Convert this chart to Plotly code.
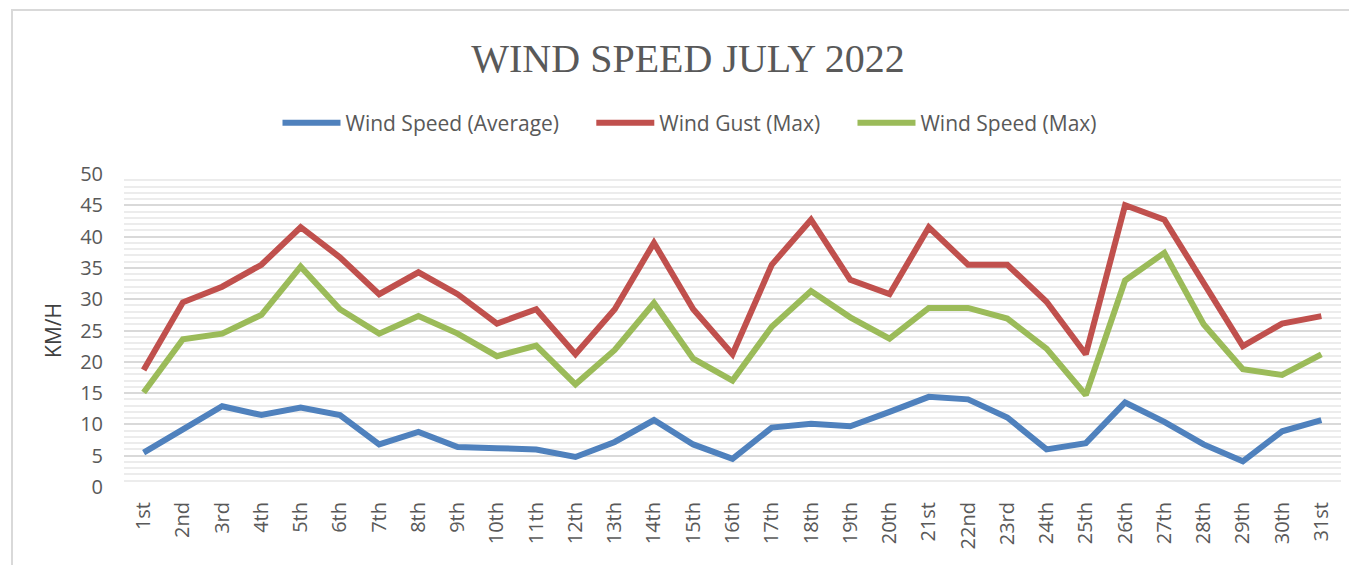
import plotly.graph_objects as go

days = ["1st", "2nd", "3rd", "4th", "5th", "6th", "7th", "8th", "9th", "10th",
        "11th", "12th", "13th", "14th", "15th", "16th", "17th", "18th", "19th", "20th",
        "21st", "22nd", "23rd", "24th", "25th", "26th", "27th", "28th", "29th", "30th", "31st"]

wind_avg = [5.5, 9.2, 12.9, 11.5, 12.7, 11.5, 6.8, 8.8, 6.4, 6.2,
            6.0, 4.8, 7.2, 10.7, 6.8, 4.5, 9.5, 10.1, 9.7, 12.0,
            14.4, 14.0, 11.1, 6.0, 7.0, 13.5, 10.4, 6.8, 4.1, 8.9, 10.7]

gust_max = [18.7, 29.5, 32.0, 35.5, 41.5, 36.7, 30.8, 34.3, 30.8, 26.1,
            28.4, 21.2, 28.4, 39.0, 28.4, 21.2, 35.5, 42.7, 33.1, 30.8,
            41.5, 35.5, 35.5, 29.6, 21.2, 45.0, 42.7, 32.5, 22.5, 26.1, 27.3]

wind_max = [15.1, 23.6, 24.5, 27.5, 35.2, 28.4, 24.5, 27.3, 24.5, 20.9,
            22.6, 16.4, 21.9, 29.4, 20.5, 17.0, 25.6, 31.3, 27.1, 23.7,
            28.6, 28.6, 26.9, 22.1, 14.7, 33.0, 37.4, 26.0, 18.8, 17.9, 21.2]

series_names = ["Wind Speed (Average)", "Wind Gust (Max)", "Wind Speed (Max)"]
series_values = [wind_avg, gust_max, wind_max]
series_colors = ["#4f81bd", "#c0504d", "#9bbb59"]

fig = go.Figure()
PAD = "\u00a0" * 5  # extra spacing between legend entries
for i, (name, vals, color) in enumerate(zip(series_names, series_values, series_colors)):
    label = name + (PAD if i < len(series_names) - 1 else "")
    fig.add_trace(go.Scatter(
        x=days, y=vals, name=label, mode="lines",
        line=dict(color=color, width=6, shape="linear"),
    ))

# page body has an 8px margin, so the figure is offset by 8px
OFF = 8
W, H = 1357 - OFF, 565 - OFF
L, R, T, B = 124 - OFF, 16, 174 - OFF, 78
pw, ph = W - L - R, H - T - B

fig.update_layout(
    width=W, height=H,
    margin=dict(l=L, r=R, t=T, b=B, autoexpand=False),
    paper_bgcolor="white", plot_bgcolor="white",
    font=dict(family="Open Sans", color="#595959"),
    title=dict(
        text="WIND SPEED JULY 2022",
        font=dict(family="Liberation Serif", size=40, color="#595959"),
        x=(688 - OFF) / W, xanchor="center", y=1 - (58 - OFF) / H, yanchor="middle",
    ),
    legend=dict(
        orientation="h", x=(690 - 124) / pw, xanchor="center",
        y=1 + (174 - 123) / ph, yanchor="middle",
        font=dict(family="Open Sans", size=21, color="#595959"),
        itemwidth=58,
    ),
    showlegend=True,
    xaxis=dict(
        type="category", range=[-0.5, len(days) - 0.5],
        tickangle=-90, showgrid=False, zeroline=False,
        showline=False, ticks="", ticklen=0, ticklabelstandoff=10,
        tickfont=dict(family="Open Sans", size=20, color="#595959"),
    ),
    yaxis=dict(
        range=[0, 50], dtick=5, tick0=0, showgrid=True, gridcolor="#d9d9d9",
        gridwidth=2, zeroline=False, showline=False, ticks="",
        tickfont=dict(family="Open Sans", size=20, color="#595959"),
        ticklabelstandoff=20,
        minor=dict(dtick=1, showgrid=True, gridcolor="#ececec", gridwidth=2),
        title=dict(text="KM/H", font=dict(family="Open Sans", size=21, color="#404040"), standoff=12),
    ),
)

fig.add_shape(
    type="rect", xref="paper", yref="paper",
    x0=(12 - 124) / pw, x1=(1367 - 124) / pw,
    y0=1 - (575 - 174) / ph, y1=1 + (174 - 10) / ph,
    line=dict(color="#d9d9d9", width=2), fillcolor="rgba(0,0,0,0)", layer="below",
)

fig.write_html("out.html")
